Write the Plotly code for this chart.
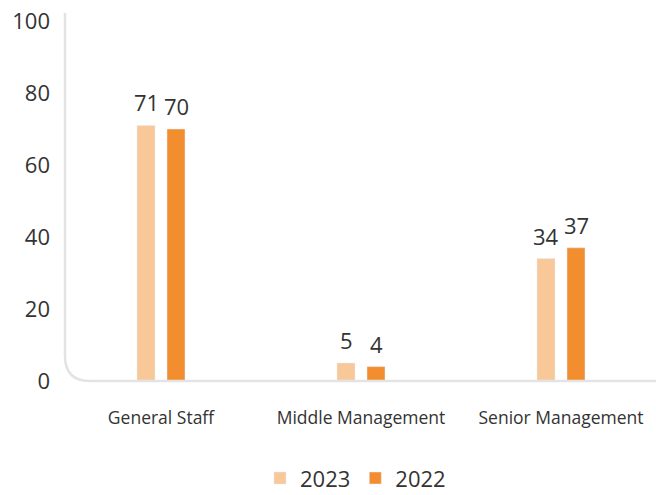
import plotly.graph_objects as go

categories = ["General Staff", "Middle Management", "Senior Management"]
values_2023 = [71, 5, 34]
values_2022 = [70, 4, 37]
y_ticks = [0, 20, 40, 60, 80, 100]

W, H = 656, 495
ML, MR, MT, MB = 65, 0, 21, 114
PW = W - ML - MR
PH = H - MT - MB

font_family = "Open Sans, Noto Sans, sans-serif"
txt = "#333333"
BAR_W = 0.09
OFF_2023 = -0.12
OFF_2022 = 0.03

xs = list(range(len(categories)))

fig = go.Figure()
fig.add_trace(go.Bar(
    x=xs, y=values_2023, name="2023",
    marker_color="#F8C898", width=BAR_W, offset=OFF_2023,
))
fig.add_trace(go.Bar(
    x=xs, y=values_2022, name="2022",
    marker_color="#F28E2F", width=BAR_W, offset=OFF_2022,
))

for vals, off in ((values_2023, OFF_2023), (values_2022, OFF_2022)):
    for i, v in zip(xs, vals):
        fig.add_annotation(
            x=i + off + BAR_W / 2, y=v, text=str(v), showarrow=False,
            xref="x", yref="y", yanchor="bottom", yshift=6,
            font=dict(size=22, color=txt, family=font_family),
        )

r = 25
dx = r / PW
dy = r / PH
top = (PH + 8) / PH
path = f"M 0,{top} L 0,{dy} Q 0,0 {dx},0 L 1,0"
fig.add_shape(type="path", path=path, xref="paper", yref="paper",
              line=dict(color="#E3E3E3", width=2.5), layer="above")

fig.update_layout(
    width=W, height=H,
    margin=dict(l=ML, r=MR, t=MT, b=MB, autoexpand=False),
    paper_bgcolor="white", plot_bgcolor="white",
    font=dict(family=font_family, color=txt),
    barmode="overlay",
    showlegend=True,
    legend=dict(orientation="h", x=0.4915, xanchor="center", y=-0.27, yanchor="middle",
                font=dict(size=22, color=txt), itemwidth=30, traceorder="normal"),
    xaxis=dict(
        tickmode="array", tickvals=xs, ticktext=categories,
        range=[-0.48, 2.475], showgrid=False, zeroline=False, showline=False,
        tickfont=dict(size=17.5, color=txt), ticks="", ticklabelstandoff=24,
        automargin=False,
    ),
    yaxis=dict(
        range=[0, 100], tickvals=y_ticks, showgrid=False, zeroline=False,
        showline=False, tickfont=dict(size=22, color=txt), ticks="",
        ticklabelstandoff=14, automargin=False,
    ),
)

fig.write_html("out.html", post_script="document.body.style.margin='0';",
               config={"displayModeBar": False})
